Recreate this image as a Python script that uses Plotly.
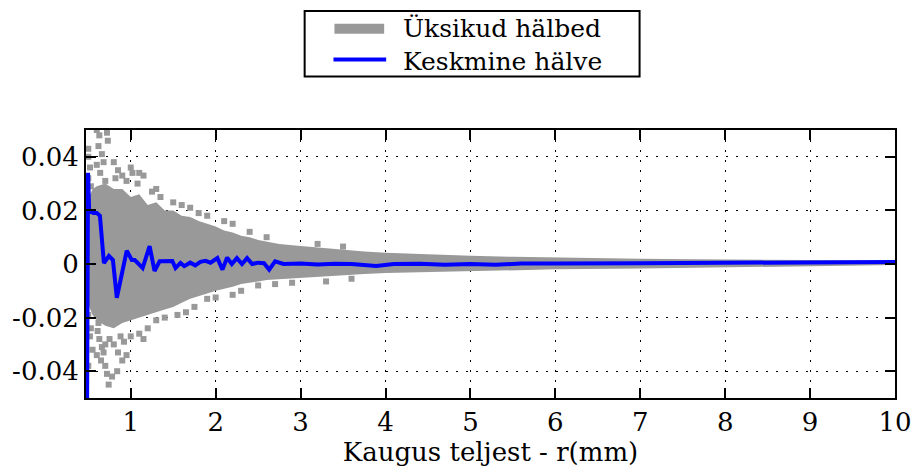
import plotly.graph_objects as go

# ---- data ----
# dense envelope of the individual deviations (gray cloud)
band_x = [0.5, 0.55, 0.6, 0.7, 0.8, 0.9, 1.0, 1.1, 1.2, 1.3, 1.4, 1.5, 1.6, 1.7, 1.8,
          1.9, 2.0, 2.1, 2.2, 2.3, 2.4, 2.5, 2.6, 2.75, 3.0, 3.25, 3.5, 3.75, 4.0,
          4.5, 5.0, 5.5, 6.0, 7.0, 8.0, 9.0, 10.0]
band_upper = [0.024, 0.028, 0.029, 0.030, 0.028, 0.028, 0.025, 0.026, 0.022, 0.023,
              0.020, 0.020, 0.018, 0.0175, 0.016, 0.015, 0.014, 0.0125, 0.0118,
              0.0105, 0.010, 0.009, 0.0085, 0.0075, 0.0067, 0.006, 0.0052, 0.0047,
              0.0042, 0.0036, 0.0031, 0.0027, 0.0024, 0.002, 0.0017, 0.0015, 0.0013]
band_lower = [-0.015, -0.019, -0.021, -0.023, -0.024, -0.022, -0.021, -0.020, -0.019,
              -0.018, -0.017, -0.016, -0.0145, -0.013, -0.012, -0.011, -0.010,
              -0.0092, -0.0085, -0.0075, -0.007, -0.0065, -0.006, -0.0058, -0.0052,
              -0.0046, -0.0042, -0.0037, -0.0034, -0.003, -0.0026, -0.0023, -0.002,
              -0.0017, -0.0014, -0.0009, -0.0004]

# scattered individual deviations outside the dense cloud
pts_x = [0.50, 0.50, 0.52, 0.50, 0.53, 0.52, 0.54, 0.52, 0.50, 0.53, 0.52, 0.50, 0.55,
         0.60, 0.63, 0.62, 0.66, 0.60, 0.64, 0.70, 0.72, 0.73, 0.68, 0.61, 0.63, 0.66,
         0.60, 0.65, 0.68, 0.70, 0.72, 0.74, 0.70, 0.75, 0.62,
         0.80, 0.85, 0.90, 0.95, 1.00, 1.02, 0.82, 0.88, 0.80, 0.85, 0.90, 0.95, 0.84,
         0.78, 1.00, 0.92,
         1.10, 1.15, 1.08, 1.30, 1.25, 1.35, 1.20, 1.10, 1.30, 1.15, 1.40,
         1.50, 1.60, 1.70, 1.80, 1.90, 1.55, 1.65, 1.75, 1.90, 2.00,
         2.10, 2.20, 2.40, 2.60, 2.20, 2.30, 2.50, 2.70, 2.90,
         3.30, 3.60, 3.20, 3.50]
pts_y = [0.043, 0.040, 0.036, 0.032, 0.029, 0.025, -0.010, -0.014, -0.019, -0.024,
         -0.027, -0.038, -0.032,
         0.050, 0.048, 0.044, 0.041, 0.037, 0.034, 0.031, 0.049, 0.046, 0.038, -0.025,
         -0.028, -0.031, -0.034, -0.036, -0.033, -0.038, -0.041, -0.045, -0.030,
         -0.028, -0.022,
         0.038, 0.035, 0.033, 0.031, 0.036, 0.034, 0.032, -0.027, -0.030, -0.033,
         -0.036, -0.034, -0.040, -0.042, -0.027, -0.029,
         0.034, 0.033, 0.030, 0.028, 0.027, 0.025, -0.024, -0.026, -0.021, -0.028,
         -0.020,
         0.023, 0.022, 0.021, 0.019, 0.018, -0.019, -0.018, -0.016, -0.013, -0.0125,
         0.016, 0.015, 0.012, 0.010, -0.0115, -0.010, -0.008, -0.0075, -0.007,
         -0.0065, -0.0055, 0.0075, 0.0065]

# mean deviation (blue line)
mean_x = [0.485, 0.497, 0.51, 0.56, 0.60, 0.637, 0.684, 0.743, 0.79, 0.836, 0.953,
          1.012, 1.047, 1.14, 1.222, 1.28, 1.34, 1.49, 1.527, 1.585, 1.63, 1.70,
          1.76, 1.82, 1.88, 1.94, 2.02, 2.08, 2.135, 2.19, 2.25, 2.31, 2.37, 2.43,
          2.50, 2.57, 2.63, 2.70, 2.8, 3.0, 3.2, 3.4, 3.6, 3.89, 4.1, 4.4, 4.7,
          5.0, 5.3, 5.6, 6.0, 6.5, 7.0, 7.5, 8.0, 8.5, 9.0, 9.5, 10.0]
mean_y = [-0.06, 0.034, 0.020, 0.019, 0.019, 0.018, 0.0003, 0.003, 0.0015, -0.0126,
          0.005, 0.0015, 0.0015, -0.0015, 0.0067, -0.0026, 0.001, 0.0011, -0.0015,
          0.0004, -0.0008, 0.0005, -0.0005, 0.0008, 0.0012, 0.0005, 0.0022, -0.0021,
          0.0024, 0.0, 0.0022, 0.0, 0.0022, 0.0, 0.0005, 0.0003, -0.0021, 0.001,
          0.0, 0.0002, -0.0002, 0.0001, 0.0, -0.0007, 0.0, 0.0001, -0.0003, 0.0,
          -0.0003, 0.0002, 0.0002, 0.0001, 0.0003, 0.0004, 0.0004, 0.0005, 0.0004,
          0.0005, 0.0007]

series_names = ["Üksikud hälbed", "Keskmine hälve"]
x_ticks = [1, 2, 3, 4, 5, 6, 7, 8, 9, 10]
y_ticks = [-0.04, -0.02, 0, 0.02, 0.04]
y_tick_text = ["-0.04", "-0.02", "0", "0.02", "0.04"]

GRAY = "#999999"
BLUE = "#0000ff"
FONT = "DejaVu Serif"

fig = go.Figure()
fig.add_trace(go.Scatter(
    x=band_x + band_x[::-1], y=band_upper + band_lower[::-1],
    fill="toself", fillcolor=GRAY, mode="lines", line=dict(width=0, color=GRAY),
    name=series_names[0], showlegend=False, hoverinfo="skip"))
fig.add_trace(go.Scatter(
    x=pts_x, y=pts_y, mode="markers", showlegend=False, name=series_names[0],
    marker=dict(symbol="square", size=6, color=GRAY, line=dict(width=0))))
fig.add_trace(go.Scatter(
    x=mean_x, y=mean_y, mode="lines", name=series_names[1], showlegend=False,
    line=dict(color=BLUE, width=4)))

axis_common = dict(
    showline=True, linecolor="black", linewidth=2, mirror="ticks",
    ticks="inside", ticklen=10, tickwidth=1.5, tickcolor="black",
    showgrid=True, gridcolor="black", gridwidth=1.2, griddash="2px,8px",
    zeroline=False, tickfont=dict(family=FONT, size=26, color="black"))

fig.update_xaxes(range=[0.473, 10], tickvals=x_ticks,
                 title=dict(text="Kaugus teljest - r(mm)",
                            font=dict(family=FONT, size=26, color="black"),
                            standoff=6),
                 **axis_common)
fig.update_yaxes(range=[-0.05, 0.05], tickvals=y_ticks, ticktext=y_tick_text,
                 **axis_common)

# legend box drawn above the plot (paper coordinates)
L, R, T, B = 83, 897, 130, 400
def px(x):
    return (x - L) / (R - L)
def py(y):
    return (B - y) / (B - T)

fig.add_shape(type="rect", xref="paper", yref="paper",
              x0=px(303), x1=px(640), y0=py(76), y1=py(10),
              line=dict(color="black", width=2), fillcolor="white", layer="above")
fig.add_shape(type="rect", xref="paper", yref="paper",
              x0=px(333), x1=px(383), y0=py(33), y1=py(23),
              line=dict(width=0), fillcolor=GRAY, layer="above")
fig.add_shape(type="line", xref="paper", yref="paper",
              x0=px(332), x1=px(385), y0=py(59), y1=py(59),
              line=dict(color=BLUE, width=4), layer="above")
fig.add_annotation(xref="paper", yref="paper", x=px(401), y=py(44),
                   xanchor="left", yanchor="middle", align="left", showarrow=False,
                   text="<br>".join(series_names), borderpad=0,
                   font=dict(family=FONT, size=25, color="black"))

fig.update_layout(
    width=924, height=473,
    margin=dict(l=L, r=924 - R, t=T, b=473 - B),
    paper_bgcolor="white", plot_bgcolor="white",
    font=dict(family=FONT, size=26, color="black"),
    showlegend=False,
)

fig.write_html("out.html")
